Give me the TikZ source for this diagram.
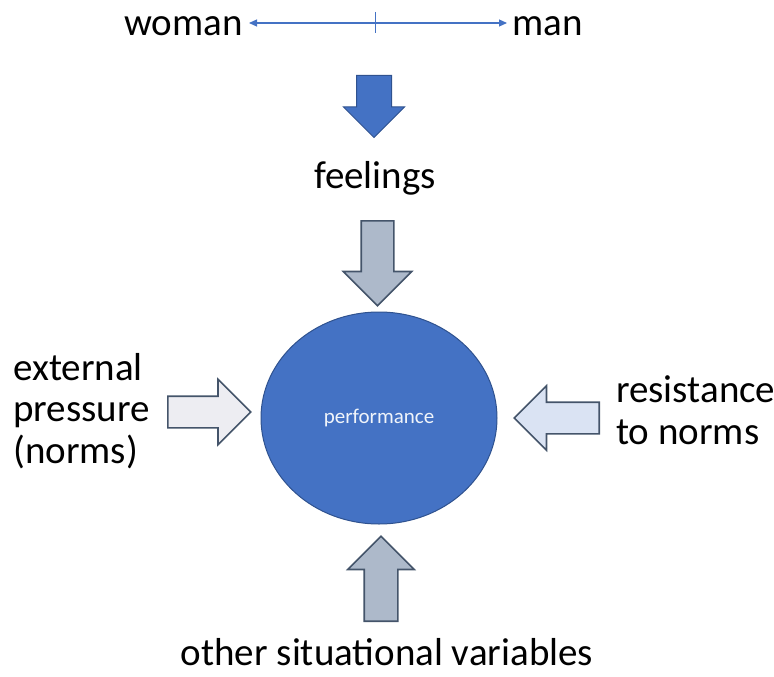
\documentclass[tikz,border=0pt]{standalone}
\usepackage{fontspec}
\setmainfont{Carlito}
\usetikzlibrary{shapes.geometric,shapes.arrows,arrows.meta}

\definecolor{officeblauw}{HTML}{4472C4}
\definecolor{donkerblauw}{HTML}{2F528F}
\definecolor{leigrijs}{HTML}{44546A}
\definecolor{grijsblauw}{HTML}{ADB9CA}
\definecolor{lichtgrijs}{HTML}{EDEDF2}
\definecolor{lichtblauw}{HTML}{DAE3F3}

\tikzset{
  tekst/.style={font=\fontsize{39}{41.5}\selectfont, inner sep=0pt},
  blokpijl/.style={single arrow, inner xsep=0pt, inner ysep=15.5pt, minimum height=85pt,
    minimum width=65pt, single arrow head extend=17pt, line width=1.6pt,
    draw=leigrijs, fill=grijsblauw},
  schaalpijl/.style={-{Triangle[length=8pt,width=7pt]}, officeblauw, line width=1.1pt}
}

\begin{document}
\begin{tikzpicture}[x=1pt, y=-1pt]
  \useasboundingbox (0,0) rectangle (774,677);

  % schaal vrouw - man
  \node[tekst, anchor=base east, inner xsep=6pt] (vrouw) at (249,36) {woman};
  \node[tekst, anchor=base west, inner xsep=5pt] (man) at (507,36) {man};
  \coordinate (midden) at (375,23);
  \draw[schaalpijl] (midden) -- (vrouw.east |- midden);
  \draw[schaalpijl] (midden) -- (man.west |- midden);
  \draw[officeblauw, line width=0.8pt] (375,12) -- (375,33);

  % donkere pijl naar gevoelens
  \node[blokpijl, anchor=tail, rotate=270, minimum height=62pt,
    inner ysep=17pt, minimum width=60pt, single arrow head extend=13pt,
    draw=donkerblauw, fill=officeblauw, line width=1pt] (pijlgevoel) at (374,75) {};
  \node[tekst, anchor=base] (gevoel) at (375,188) {feelings};

  % prestatie in het midden
  \node[ellipse, minimum width=236pt, minimum height=212pt, inner sep=0pt,
    draw=donkerblauw, fill=officeblauw, line width=1pt] (prestatie) at (379,418) {};
  \node[font=\fontsize{21}{24}\selectfont, text=white!92!officeblauw] (label) at (prestatie) {performance};

  % pijlen naar de prestatie
  \node[blokpijl, anchor=tail, rotate=270, minimum width=67pt,
    single arrow head extend=18pt] (pijlboven) at (377.5,220) {};
  \node[blokpijl, anchor=tail, minimum height=83pt,
    inner ysep=15pt, minimum width=64pt, fill=lichtgrijs] (pijllinks) at (167,412) {};
  \node[blokpijl, anchor=tail, rotate=180, minimum width=63pt,
    inner ysep=15pt, single arrow head extend=16.5pt, fill=lichtblauw] (pijlrechts) at (600,418) {};
  \node[blokpijl, anchor=tail, rotate=90, inner ysep=16pt,
    single arrow head extend=16.5pt] (pijlonder) at (381,622) {};

  % teksten rondom
  \node[tekst, anchor=base west, align=left] (druk) at (13,463)
    {external\\pressure\\(norms)};
  \node[tekst, anchor=base west, align=left] (weerstand) at (616,444)
    {resistance\\to norms};
  \node[tekst, anchor=base] (overig) at (387,665) {other situational variables};
\end{tikzpicture}
\end{document}
